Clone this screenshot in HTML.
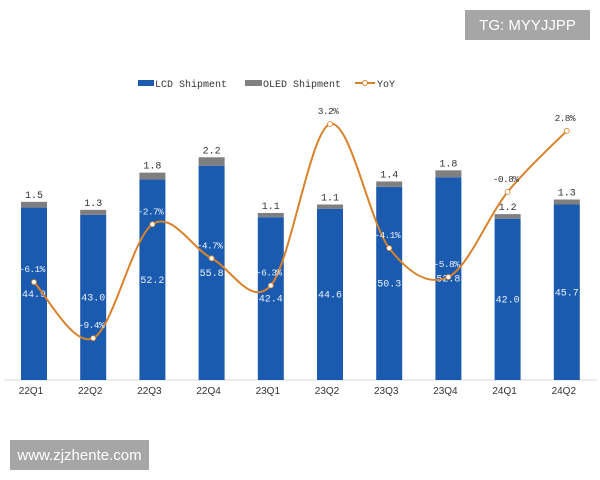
<!DOCTYPE html>
<html><head><meta charset="utf-8"><style>
body{margin:0;background:#fff;width:600px;height:480px;overflow:hidden;position:relative;font-family:"Liberation Sans",sans-serif}
.tag{position:absolute;background:#a6a6a6;color:#fff;display:flex;align-items:center;justify-content:center}
</style></head><body>
<div class="tag" style="left:465px;top:10px;width:125px;height:30px;font-size:15px">TG: MYYJJPP</div>
<div class="tag" style="left:10px;top:440px;width:139px;height:30px;font-size:15px">www.zjzhente.com</div>
<svg id="chart" width="600" height="480" style="position:absolute;left:0;top:0" xmlns="http://www.w3.org/2000/svg" font-family="Liberation Mono, monospace">
<g font-size="10" fill="#333">
<rect x="138" y="80" width="16" height="6" fill="#1a5bb0"/>
<text x="155" y="87">LCD Shipment</text>
<rect x="245" y="80" width="17" height="6" fill="#7f7f7f"/>
<text x="263" y="87">OLED Shipment</text>
<line x1="355" y1="83" x2="375" y2="83" stroke="#d9822b" stroke-width="2"/>
<circle cx="365" cy="83" r="2.5" fill="#fff" stroke="#d9822b"/>
<text x="377" y="87">YoY</text>
</g>
<line x1="4" y1="380" x2="597" y2="380" stroke="#d9d9d9"/>
<g id="marks"></g>
</svg>
<script>
const categories=["22Q1","22Q2","22Q3","22Q4","23Q1","23Q2","23Q3","23Q4","24Q1","24Q2"];
const lcd=[44.9,43.0,52.2,55.8,42.4,44.6,50.3,52.8,42.0,45.7];
const oled=[1.5,1.3,1.8,2.2,1.1,1.1,1.4,1.8,1.2,1.3];
const yoy=[-6.1,-9.4,-2.7,-4.7,-6.3,3.2,-4.1,-5.8,-0.8,2.8];
const NS="http://www.w3.org/2000/svg";
const g=document.getElementById('marks');
const xs=i=>34+i*59.2;
const yb=v=>380-v*3.84;
const yy=p=>178.4-p*17;
function el(t,a){const e=document.createElementNS(NS,t);for(const k in a)e.setAttribute(k,a[k]);g.appendChild(e);return e;}
categories.forEach((c,i)=>{
 const x=xs(i),w=26;
 const r1=el('rect',{x:x-w/2,y:yb(lcd[i]),width:w,height:380-yb(lcd[i]),fill:'#1a5bb0'});
 
 
 const top=yb(lcd[i]+oled[i]);
 const r2=el('rect',{x:x-w/2,y:top,width:w,height:yb(lcd[i])-top,fill:'#7f7f7f'});
 
 
 const t1=el('text',{x:x,y:top-4,'text-anchor':'middle','font-size':10,fill:'#333'});t1.textContent=oled[i].toFixed(1);
 
 
 const t2=el('text',{x:x,y:(yb(lcd[i])+380)/2+3,'text-anchor':'middle','font-size':10,fill:'#eaf1fb'});t2.textContent=lcd[i].toFixed(1);
 
 
 const tl=el('text',{x:x-3,y:394,'text-anchor':'middle','font-size':10,fill:'#333','font-family':'Liberation Sans, sans-serif'});tl.textContent=c;
 
 
});
const pts=yoy.map((p,i)=>[xs(i),yy(p)]);
let d='M'+pts[0][0]+','+pts[0][1];
for(let i=0;i<pts.length-1;i++){
 const p0=pts[Math.max(0,i-1)],p1=pts[i],p2=pts[i+1],p3=pts[Math.min(pts.length-1,i+2)];
 const k=1/6;
 d+=' C'+(p1[0]+(p2[0]-p0[0])*k)+','+(p1[1]+(p2[1]-p0[1])*k)+' '+(p2[0]-(p3[0]-p1[0])*k)+','+(p2[1]-(p3[1]-p1[1])*k)+' '+p2[0]+','+p2[1];
}
const line=el('path',{d:d,fill:'none',stroke:'#d9822b','stroke-width':2});


yoy.forEach((p,i)=>{
 const c=el('circle',{cx:pts[i][0],cy:pts[i][1],r:2.5,fill:'#fff',stroke:'#d9822b','stroke-width':0.8});
 
 
 const onBar=yy(p)>yb(lcd[i]+oled[i]);
 const t=el('text',{x:pts[i][0]-2,y:pts[i][1]-10,'text-anchor':'middle','font-size':9.5,'letter-spacing':'-0.6',fill:onBar?'#eaf1fb':'#333'});
 t.textContent=p.toFixed(1)+'%';
 
 
});
</script>
</body></html>
